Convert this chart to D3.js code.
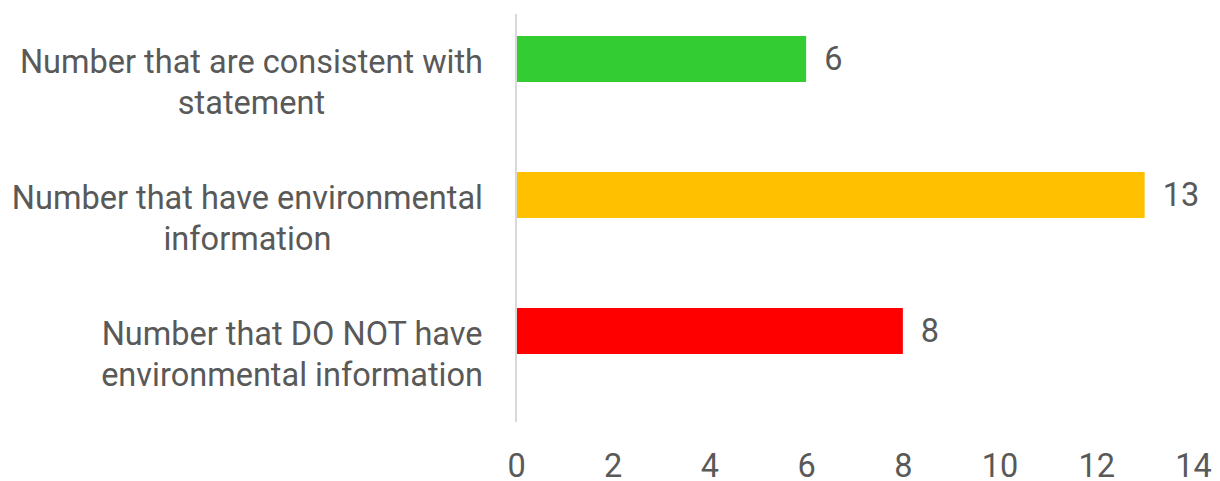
<!DOCTYPE html>
<html>
<head>
<meta charset="utf-8">
<script src="https://cdn.jsdelivr.net/npm/d3@7"></script>
<style>
  body { margin: 0; background: #fff; }
  text { font-family: Roboto, sans-serif; fill: #595959; }
</style>
</head>
<body>
<script>
// data
var categories = ['consistent', 'have', 'donot'];
var labelLines = [
    ['Number that are consistent with', 'statement'],
    ['Number that have environmental', 'information'],
    ['Number that DO NOT have', 'environmental information']
];
var values = [6, 13, 8];
var colors = ['#33CC33', '#FFC000', '#FF0000'];
var xTicks = [0, 2, 4, 6, 8, 10, 12, 14];

var width = 1220, height = 481;
var fontSize = 32.5;

var svg = d3.select('body').append('svg')
    .attr('width', width)
    .attr('height', height);

var x = d3.scaleLinear().domain([0, 14]).range([516, 1193]);

// category bands
var y = d3.scaleBand().domain(categories).range([14, 422]).paddingInner(0);

// the Excel chart has an empty second series, so the visible bar sits in the upper half
var ySub = d3.scaleBand().domain(['shown', 'hidden'])
    .range([0, y.bandwidth()])
    .paddingInner(0)
    .paddingOuter(0.478);

// bars
svg.selectAll('rect.bar')
    .data(values)
    .enter()
    .append('rect')
    .attr('class', 'bar')
    .attr('x', x(0))
    .attr('y', function(d, i){ return y(categories[i]) + ySub('shown'); })
    .attr('width', function(d){ return x(d) - x(0); })
    .attr('height', ySub.bandwidth())
    .attr('fill', function(d, i){ return colors[i]; });

// value labels
svg.selectAll('text.val')
    .data(values)
    .enter()
    .append('text')
    .attr('class', 'val')
    .attr('x', function(d){ return x(d) + 18; })
    .attr('y', function(d, i){ return y(categories[i]) + ySub('shown') + ySub.bandwidth() / 2; })
    .attr('dy', '0.35em')
    .style('font-size', fontSize + 'px')
    .text(function(d){ return d; });

// vertical axis line
svg.append('line')
    .attr('x1', x(0)).attr('x2', x(0))
    .attr('y1', y.range()[0]).attr('y2', y.range()[1])
    .attr('stroke', '#D9D9D9')
    .attr('stroke-width', 2);

// category labels: block right aligned, lines centred in block
var lineGap = 41;
categories.forEach(function(c, i){
    var g = svg.append('g');
    var lines = labelLines[i];
    var cy = y(c) + y.bandwidth() / 2;
    var texts = g.selectAll('text')
        .data(lines)
        .enter()
        .append('text')
        .attr('text-anchor', 'middle')
        .attr('y', function(d, j){ return cy + (j - (lines.length - 1) / 2) * lineGap; })
        .attr('dy', '0.35em')
        .style('font-size', fontSize + 'px')
        .text(function(d){ return d; });
    var w = 0;
    texts.each(function(){ w = Math.max(w, this.getComputedTextLength()); });
    texts.attr('x', 483 - w / 2);
});

// x axis
var xAxis = d3.axisBottom(x).tickValues(xTicks).tickSize(0).tickPadding(0);
var gx = svg.append('g')
    .attr('transform', 'translate(0,' + 477 + ')')
    .call(xAxis);
gx.select('.domain').remove();
gx.selectAll('text')
    .attr('y', 0)
    .attr('dy', 0)
    .style('font-size', fontSize + 'px')
    .style('font-family', 'Roboto, sans-serif')
    .attr('fill', '#595959');
</script>
</body>
</html>
